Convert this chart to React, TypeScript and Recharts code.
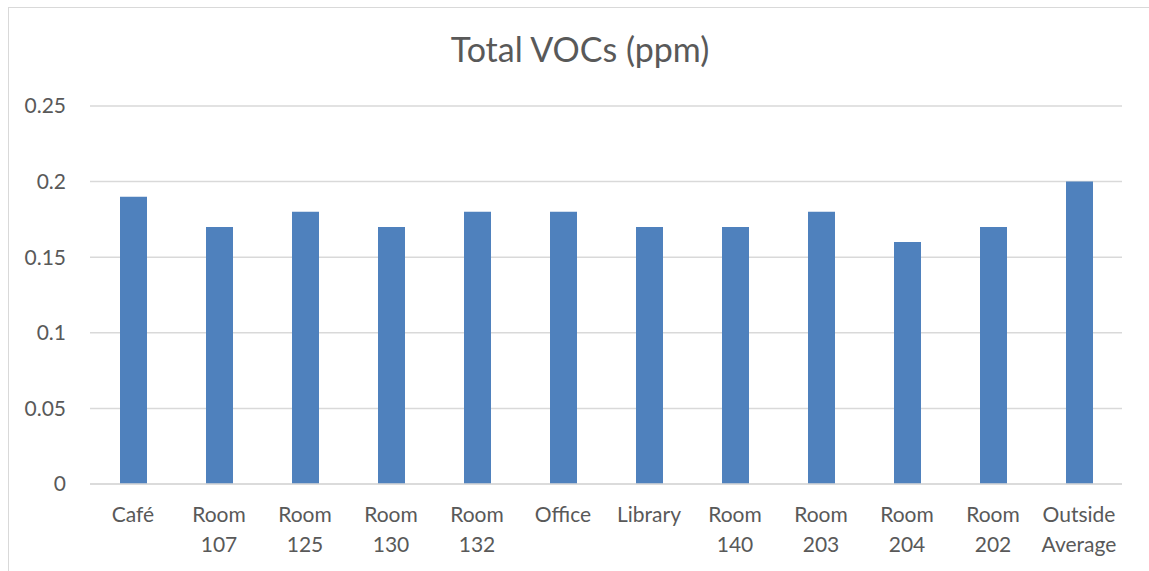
import React from "react";
import { BarChart, Bar, XAxis, YAxis, CartesianGrid } from "recharts";

const CATEGORIES = [
  "Café",
  "Room 107",
  "Room 125",
  "Room 130",
  "Room 132",
  "Office",
  "Library",
  "Room 140",
  "Room 203",
  "Room 204",
  "Room 202",
  "Outside Average",
];
const VOC_VALUES = [0.19, 0.17, 0.18, 0.17, 0.18, 0.18, 0.17, 0.17, 0.18, 0.16, 0.17, 0.2];
const Y_TICKS = [0, 0.05, 0.1, 0.15, 0.2, 0.25];

const FONT = "Lato, 'Open Sans', sans-serif";
const TEXT = "#595959";

const data = CATEGORIES.map((name, i) => ({ name, value: VOC_VALUES[i] }));

function CategoryTick(props: any) {
  const { x, y, payload } = props;
  const words = String(payload.value).split(" ");
  return (
    <text x={x} y={y} textAnchor="middle" fill={TEXT} fontSize={21} fontFamily={FONT}>
      {words.map((w, i) => (
        <tspan key={i} x={x} dy={i === 0 ? 30 : 30}>
          {w}
        </tspan>
      ))}
    </text>
  );
}

export default function App() {
  return (
    <div style={{ position: "fixed", left: 0, top: 0, width: 1149, height: 571, background: "#fff" }}>
      <div
        style={{
          position: "absolute",
          left: 8,
          top: 7,
          width: 1160,
          height: 600,
          border: "1px solid #d9d9d9",
        }}
      />
      <div
        style={{
          position: "absolute",
          left: 0,
          width: 1160,
          top: 26,
          textAlign: "center",
          fontFamily: FONT,
          fontSize: 34,
          color: TEXT,
          lineHeight: "46px",
        }}
      >
        Total VOCs (ppm)
      </div>
      <div style={{ position: "absolute", left: 0, top: 0 }}>
        <BarChart width={1149} height={571} data={data} margin={{ top: 106, right: 27, bottom: 0, left: 0 }}>
          <CartesianGrid vertical={false} stroke="#d9d9d9" strokeWidth={1.5} />
          <XAxis
            dataKey="name"
            axisLine={{ stroke: "#d9d9d9", strokeWidth: 1.5 }}
            tickLine={false}
            interval={0}
            height={87}
            tick={<CategoryTick />}
          />
          <YAxis
            width={90}
            domain={[0, 0.25]}
            ticks={Y_TICKS}
            axisLine={false}
            tickLine={false}
            tickSize={0}
            tickMargin={24}
            tickFormatter={(v: number) => String(v)}
            tick={{ fill: TEXT, fontSize: 21, fontFamily: FONT }}
          />
          <Bar dataKey="value" fill="#4F81BD" barSize={27} isAnimationActive={false} />
        </BarChart>
      </div>
    </div>
  );
}
